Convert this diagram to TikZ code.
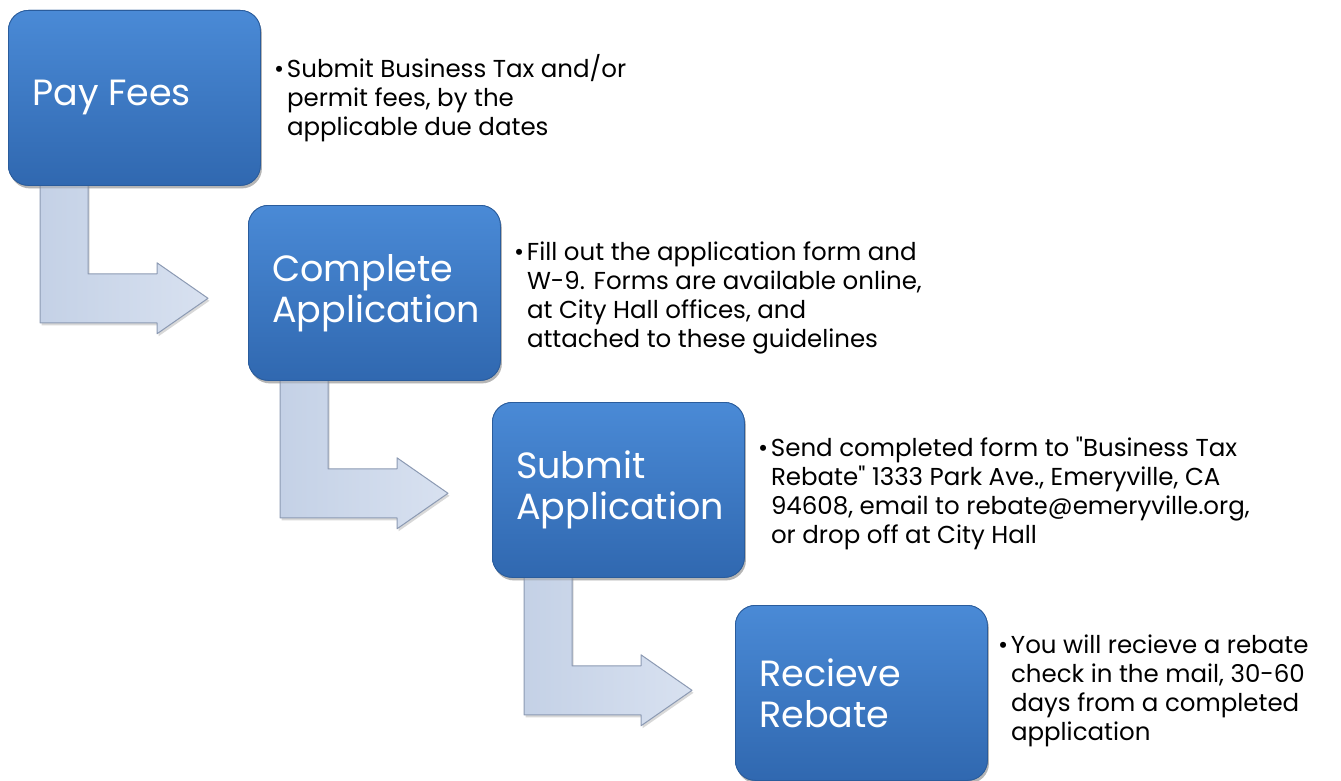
\documentclass[tikz,border=0pt]{standalone}
\usepackage{fontspec}
\setmainfont{Poppins}
\usetikzlibrary{calc,shadows}
\definecolor{boxtop}{HTML}{4A8AD6}
\definecolor{boxbot}{HTML}{3068B0}
\definecolor{boxedge}{HTML}{2A5C9C}
\definecolor{arrleft}{HTML}{C4D1E6}
\definecolor{arrright}{HTML}{D8E1F0}
\definecolor{arredge}{HTML}{8C9AB3}
\tikzset{
  stepbox/.style={rectangle, rounded corners=20pt, minimum width=252pt, minimum height=175pt,
    top color=boxtop, bottom color=boxbot, draw=boxedge, line width=0.8pt,
    drop shadow={shadow xshift=1.5pt, shadow yshift=-3pt, opacity=0.35}, inner sep=0pt},
  label/.style={text=white, font=\fontsize{36.5}{41}\selectfont, align=left, anchor=west, inner sep=0pt},
  desc/.style={text=black, font=\fontsize{24.5}{29}\selectfont, align=left, anchor=west, inner sep=0pt},
  bentarrow/.style={left color=arrleft, right color=arrright, draw=arredge, line width=1pt, line join=round,
    drop shadow={shadow xshift=1.5pt, shadow yshift=-2.5pt, opacity=0.3}},
}
\newcommand{\bul}{\makebox[13pt][l]{\textbullet}}
\newcommand{\ind}{\hspace*{13pt}}
\begin{document}
\begin{tikzpicture}[x=1pt,y=-1pt]
\useasboundingbox[fill=white] (0,0) rectangle (1341,781);

\node[stepbox, anchor=north west] (b1) at (8,10) {};
\node[stepbox, anchor=north west] (b2) at (248,205) {};
\node[stepbox, anchor=north west] (b3) at (492,402) {};
\node[stepbox, anchor=north west] (b4) at (735,605) {};

\foreach \s/\t in {b1/b2, b2/b3, b3/b4}{
  \coordinate (sw) at (\s.south west);
  \draw[bentarrow]
    ($(sw)+(32,-2)$) -- ($(sw)+(80,-2)$) -- ($(sw)+(80,88)$) -- ($(sw)+(149,88)$)
    -- ($(sw)+(149,77)$) -- ($(sw)+(200,112.5)$) -- ($(sw)+(149,148)$)
    -- ($(sw)+(149,137)$) -- ($(sw)+(32,137)$) -- cycle;
}

% redraw boxes on top of the arrows
\node[stepbox, anchor=north west] at (b1.north west) {};
\node[stepbox, anchor=north west] at (b2.north west) {};
\node[stepbox, anchor=north west] at (b3.north west) {};
\node[stepbox, anchor=north west] at (b4.north west) {};

\node[label] (l1) at ($(b1.west)+(24,0)$) {Pay Fees};
\node[label] (l2) at ($(b2.west)+(24,0)$) {Complete\\Application};
\node[label] (l3) at ($(b3.west)+(24,0)$) {Submit\\Application};
\node[label] (l4) at ($(b4.west)+(24,0)$) {Recieve\\Rebate};

\node[desc] (d1) at ($(b1.east)+(13,0)$) {\bul Submit Business Tax and/or\\\ind permit fees, by the\\\ind applicable due dates};
\node[desc] (d2) at ($(b2.east)+(13,5)$) {\bul Fill out the application form and\\\ind W-9. Forms are available online,\\\ind at City Hall offices, and\\\ind attached to these guidelines};
\node[desc] (d3) at ($(b3.east)+(13,4)$) {\bul Send completed form to \textquotedbl Business Tax\\\ind Rebate\textquotedbl{} 1333 Park Ave., Emeryville, CA\\\ind 94608, email to rebate@emeryville.org,\\\ind or drop off at City Hall};
\node[desc] (d4) at ($(b4.east)+(10,-2)$) {\bul You will recieve a rebate\\\ind check in the mail, 30-60\\\ind days from a completed\\\ind application};
\end{tikzpicture}
\end{document}
